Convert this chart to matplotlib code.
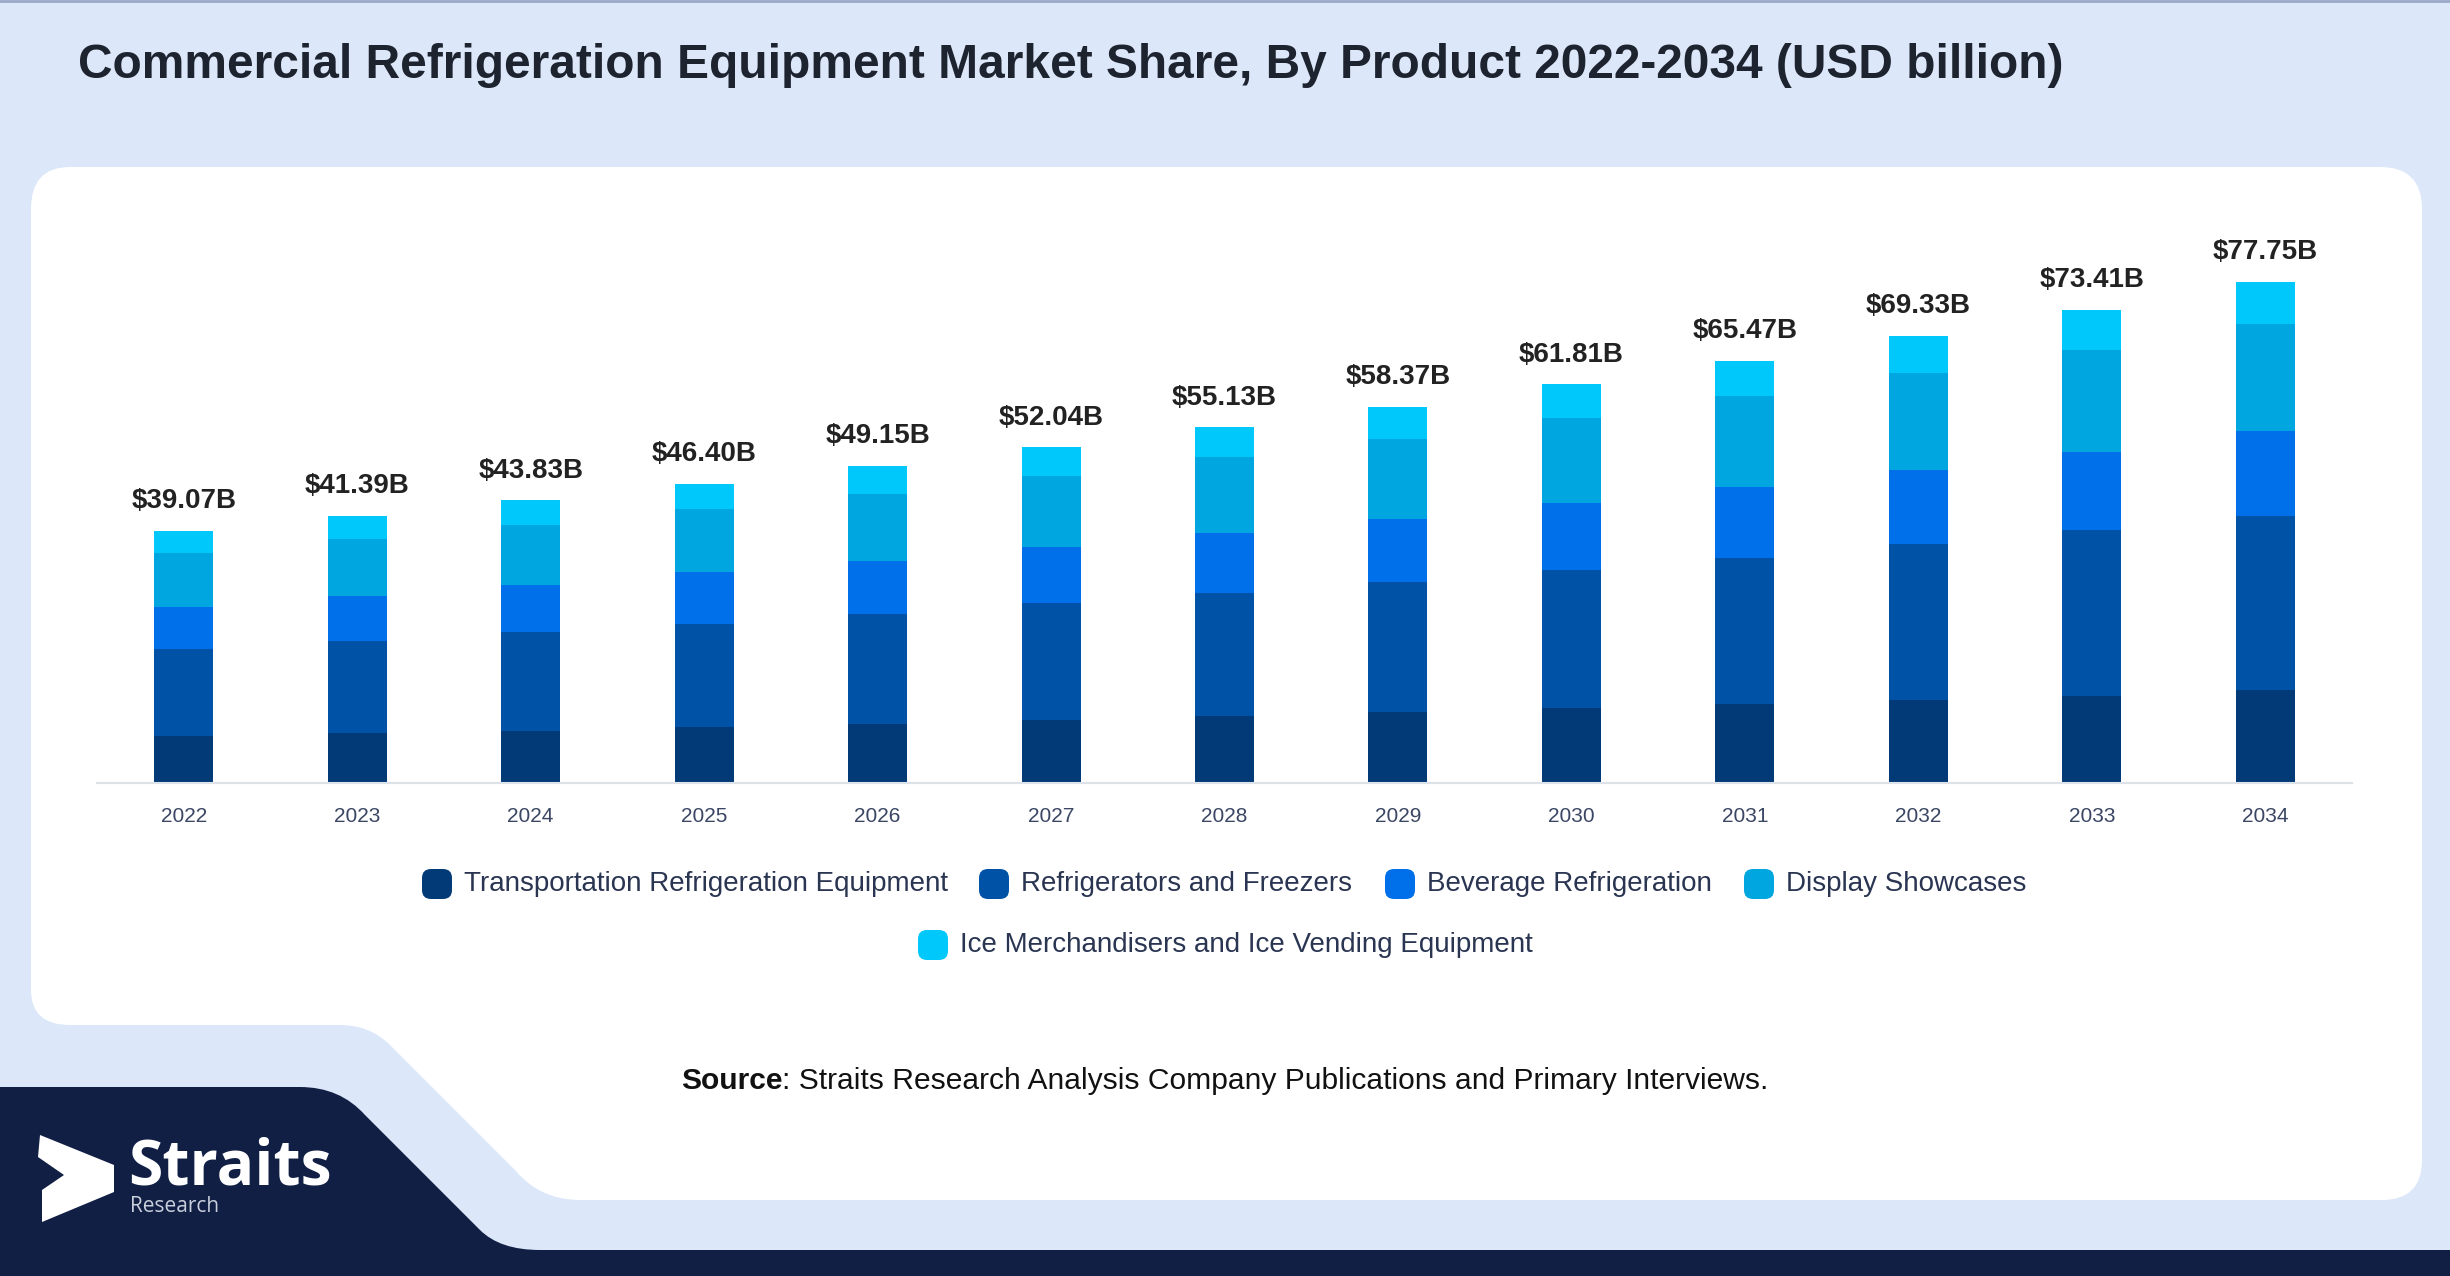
import matplotlib.pyplot as plt
import numpy as np
from matplotlib.patches import FancyBboxPatch, Polygon, PathPatch
from matplotlib.path import Path

# dane (USD mld)
years = ['2022', '2023', '2024', '2025', '2026', '2027', '2028',
         '2029', '2030', '2031', '2032', '2033', '2034']
transport = [7.35, 7.71, 8.14, 8.69, 9.11, 9.77, 10.39, 10.99, 11.60, 12.21, 12.84, 13.55, 14.49]
fridges = [13.47, 14.29, 15.30, 16.00, 17.04, 18.10, 19.03, 20.18, 21.38, 22.72, 24.27, 25.63, 26.89]
beverage = [6.53, 7.04, 7.31, 7.97, 8.34, 8.74, 9.36, 9.75, 10.38, 10.99, 11.49, 12.20, 13.14]
display = [8.38, 8.84, 9.32, 9.77, 10.40, 11.06, 11.73, 12.47, 13.25, 14.05, 14.92, 15.74, 16.69]
ice = [3.34, 3.51, 3.76, 3.97, 4.26, 4.37, 4.62, 4.98, 5.20, 5.50, 5.81, 6.29, 6.54]
totals = ['$39.07B', '$41.39B', '$43.83B', '$46.40B', '$49.15B', '$52.04B', '$55.13B',
          '$58.37B', '$61.81B', '$65.47B', '$69.33B', '$73.41B', '$77.75B']

series = [transport, fridges, beverage, display, ice]
names = ['Transportation Refrigeration Equipment', 'Refrigerators and Freezers',
         'Beverage Refrigeration', 'Display Showcases',
         'Ice Merchandisers and Ice Vending Equipment']
colors = ['#023a78', '#0052a6', '#0070ea', '#00a6e0', '#00c8fb']

plt.rcParams['font.family'] = ['Liberation Sans', 'DejaVu Sans']

W, H = 2450, 1276
fig = plt.figure(figsize=(W / 100, H / 100), dpi=100)
fig.patch.set_facecolor('#dce8f9')

# tlo: biale pole, granatowy pas z logo
bg = fig.add_axes([0, 0, 1, 1])
bg.set_xlim(0, W)
bg.set_ylim(H, 0)
bg.axis('off')

white = Path([(70, 167), (2380, 167), (2422, 167), (2422, 209), (2422, 1160),
              (2422, 1200), (2382, 1200), (580, 1200), (540, 1200), (515, 1170),
              (390, 1045), (370, 1025), (340, 1025), (70, 1025), (31, 1025),
              (31, 990), (31, 209), (31, 167), (70, 167)],
             [Path.MOVETO, Path.LINETO, Path.CURVE3, Path.CURVE3, Path.LINETO,
              Path.CURVE3, Path.CURVE3, Path.LINETO, Path.CURVE3, Path.CURVE3,
              Path.LINETO, Path.CURVE3, Path.CURVE3, Path.LINETO, Path.CURVE3,
              Path.CURVE3, Path.LINETO, Path.CURVE3, Path.CURVE3])
bg.add_patch(PathPatch(white, facecolor='white', edgecolor='none'))

navy = Path([(0, 1087), (300, 1087), (340, 1087), (365, 1115), (480, 1230),
             (500, 1250), (540, 1250), (W, 1250), (W, H), (0, H), (0, 1087)],
            [Path.MOVETO, Path.LINETO, Path.CURVE3, Path.CURVE3, Path.LINETO,
             Path.CURVE3, Path.CURVE3, Path.LINETO, Path.LINETO, Path.LINETO,
             Path.CLOSEPOLY])
bg.add_patch(PathPatch(navy, facecolor='#121f45', edgecolor='none'))
bg.plot([0, W], [1, 1], color='#9aa9c8', lw=2)

# logo
bg.add_patch(Polygon([(40, 1135), (114, 1165), (114, 1192), (42, 1222),
                      (42, 1190), (64, 1175), (38, 1157)],
                     closed=True, facecolor='white', edgecolor='none'))
bg.text(128, 1168, 'Straits', color='white', fontsize=45, fontweight='bold',
        family=['Open Sans', 'DejaVu Sans'], va='center', ha='left')
bg.text(130, 1207, 'Research', color='#c9cfdc', fontsize=15,
        family=['Open Sans', 'DejaVu Sans'], va='center', ha='left')

# tytul
fig.text(78 / W, 1 - 66 / H,
         'Commercial Refrigeration Equipment Market Share, By Product 2022-2034 (USD billion)',
         fontsize=34.5, fontweight='bold', color='#1e2330', va='center', ha='left')

# wykres slupkowy
ax = fig.add_axes([97 / W, 1 - 783 / H, 2255 / W, 563 / H])
x = np.arange(len(years))
bottom = np.zeros(len(years))
for vals, name, c in zip(series, names, colors):
    ax.bar(x, vals, 0.34, bottom=bottom, color=c, label=name, zorder=2)
    bottom += np.array(vals)
for xi, top, lab in zip(x, bottom, totals):
    ax.annotate(lab, (xi, top), xytext=(0, 12), textcoords='offset points',
                ha='center', va='bottom', fontsize=20, fontweight='bold', color='#222222')

ax.set_xlim(-0.5, 12.5)
ax.set_ylim(0, 87.3)
ax.set_xticks(x)
ax.set_xticklabels(years, fontsize=15, color='#3a4663')
ax.tick_params(axis='x', length=0, pad=17)
ax.set_yticks([])
for s in ['top', 'right', 'left']:
    ax.spines[s].set_visible(False)
ax.spines['bottom'].set_color('#dde1e8')
ax.spines['bottom'].set_linewidth(1.5)
ax.patch.set_alpha(0)

# legenda recznie, dwa wiersze wysrodkowane
leg = [(437, 884), (994, 884), (1400, 884), (1759, 884), (933, 945)]
for (lx, ly), name, c in zip(leg, names, colors):
    bg.add_patch(FancyBboxPatch((lx - 13, ly - 13), 26, 26,
                                boxstyle='round,pad=2,rounding_size=9',
                                facecolor=c, edgecolor='none'))
    bg.text(lx + 27, ly, name, fontsize=20, color='#2a3552', va='center', ha='left')

# zrodlo
src = bg.text(681, 1081, 'Source', fontsize=21.6, fontweight='bold', color='#111111',
              va='center', ha='left')
bg.annotate(': Straits Research Analysis Company Publications and Primary Interviews.',
            xycoords=src, xy=(1, 0.5), va='center', ha='left', fontsize=21.6, color='#111111')

fig.savefig('out.png', dpi=100, facecolor=fig.get_facecolor())
